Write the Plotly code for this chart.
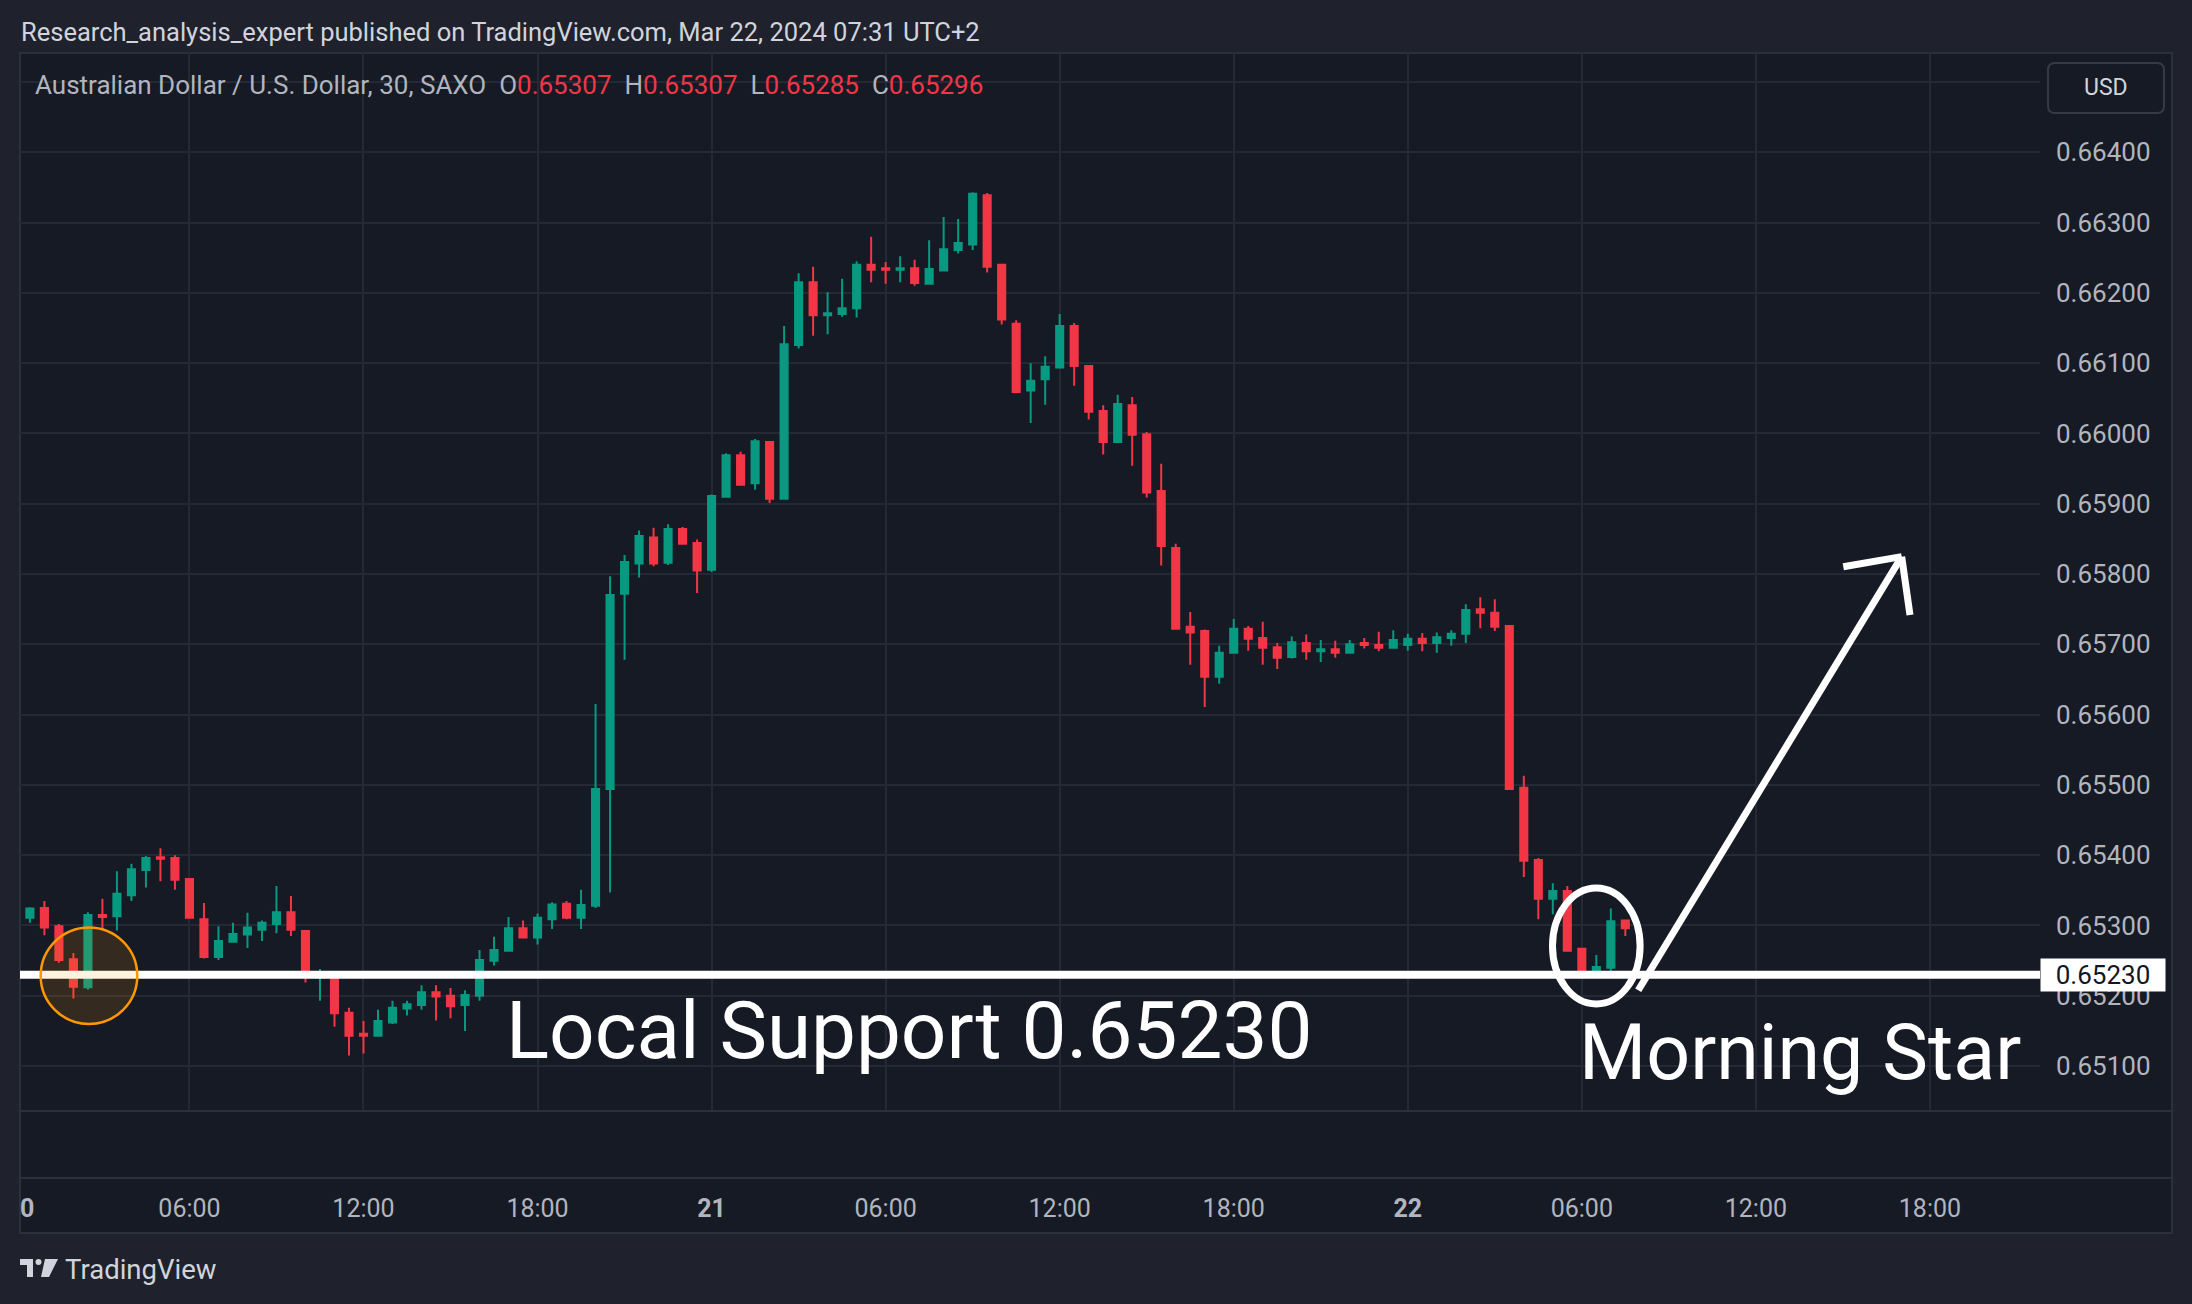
import plotly.graph_objects as go
import pandas as pd

# ---------------- data (AUD/USD, 30 min bars, SAXO) ----------------
bar_start = "2024-03-20 00:00"
bar_count = 112

open_prices = [
    0.65321, 0.65311, 0.65325, 0.65299, 0.65252, 0.65212, 0.65315, 0.65313, 0.65343, 0.65379,
    0.65397, 0.65396, 0.65366, 0.65309, 0.65255, 0.65277, 0.65287, 0.65294, 0.65302, 0.65319,
    0.65292, 0.65226, 0.65227, 0.65176, 0.65146, 0.65143, 0.65162, 0.65182, 0.65187, 0.65205,
    0.65200, 0.65187, 0.65200, 0.65250, 0.65264, 0.65296, 0.65283, 0.65309, 0.65331, 0.65311,
    0.65328, 0.65494, 0.65772, 0.65815, 0.65852, 0.65816, 0.65864, 0.65844, 0.65806, 0.65910,
    0.65969, 0.65929, 0.65988, 0.65907, 0.66126, 0.66215, 0.66168, 0.66170, 0.66178, 0.66240,
    0.66235, 0.66233, 0.66235, 0.66213, 0.66232, 0.66261, 0.66269, 0.66339, 0.66240, 0.66156,
    0.66061, 0.66077, 0.66094, 0.66153, 0.66096, 0.66032, 0.65988, 0.66040, 0.65999, 0.65918,
    0.65837, 0.65725, 0.65719, 0.65654, 0.65688, 0.65722, 0.65709, 0.65696, 0.65682, 0.65702,
    0.65690, 0.65693, 0.65688, 0.65702, 0.65699, 0.65695, 0.65699, 0.65708, 0.65702, 0.65709,
    0.65715, 0.65750, 0.65745, 0.65726, 0.65496, 0.65393, 0.65338, 0.65349, 0.65267, 0.65233,
    0.65240, 0.65307,
]
high_prices = [
    0.65325, 0.65326, 0.65335, 0.65302, 0.65261, 0.65319, 0.65338, 0.65377, 0.65388, 0.65399,
    0.65410, 0.65400, 0.65367, 0.65332, 0.65299, 0.65304, 0.65318, 0.65307, 0.65356, 0.65342,
    0.65293, 0.65238, 0.65230, 0.65183, 0.65164, 0.65180, 0.65193, 0.65193, 0.65215, 0.65215,
    0.65211, 0.65208, 0.65265, 0.65284, 0.65312, 0.65307, 0.65317, 0.65333, 0.65335, 0.65351,
    0.65615, 0.65797, 0.65827, 0.65862, 0.65866, 0.65871, 0.65867, 0.65849, 0.65913, 0.65972,
    0.65974, 0.65992, 0.65989, 0.66153, 0.66228, 0.66237, 0.66201, 0.66220, 0.66245, 0.66280,
    0.66244, 0.66252, 0.66247, 0.66275, 0.66308, 0.66305, 0.66343, 0.66342, 0.66240, 0.66161,
    0.66100, 0.66110, 0.66170, 0.66157, 0.66097, 0.66040, 0.66055, 0.66052, 0.66002, 0.65957,
    0.65843, 0.65746, 0.65721, 0.65698, 0.65736, 0.65726, 0.65732, 0.65702, 0.65711, 0.65714,
    0.65706, 0.65705, 0.65706, 0.65709, 0.65718, 0.65720, 0.65715, 0.65716, 0.65717, 0.65720,
    0.65757, 0.65767, 0.65764, 0.65726, 0.65513, 0.65396, 0.65360, 0.65356, 0.65267, 0.65258,
    0.65324, 0.65307,
]
low_prices = [
    0.65305, 0.65304, 0.65286, 0.65247, 0.65196, 0.65209, 0.65294, 0.65293, 0.65335, 0.65354,
    0.65363, 0.65351, 0.65310, 0.65253, 0.65251, 0.65277, 0.65268, 0.65278, 0.65289, 0.65285,
    0.65219, 0.65193, 0.65156, 0.65115, 0.65118, 0.65143, 0.65160, 0.65172, 0.65180, 0.65165,
    0.65168, 0.65150, 0.65193, 0.65243, 0.65264, 0.65283, 0.65273, 0.65295, 0.65309, 0.65295,
    0.65325, 0.65347, 0.65678, 0.65795, 0.65811, 0.65813, 0.65843, 0.65773, 0.65803, 0.65910,
    0.65926, 0.65920, 0.65901, 0.65907, 0.66121, 0.66139, 0.66141, 0.66166, 0.66165, 0.66215,
    0.66213, 0.66215, 0.66210, 0.66213, 0.66232, 0.66256, 0.66261, 0.66229, 0.66155, 0.66058,
    0.66015, 0.66041, 0.66094, 0.66068, 0.66020, 0.65970, 0.65988, 0.65954, 0.65909, 0.65812,
    0.65722, 0.65671, 0.65611, 0.65644, 0.65688, 0.65691, 0.65671, 0.65665, 0.65680, 0.65678,
    0.65675, 0.65681, 0.65688, 0.65694, 0.65690, 0.65695, 0.65691, 0.65690, 0.65688, 0.65698,
    0.65702, 0.65723, 0.65719, 0.65493, 0.65369, 0.65309, 0.65316, 0.65264, 0.65230, 0.65228,
    0.65235, 0.65285,
]
close_prices = [
    0.65311, 0.65324, 0.65297, 0.65251, 0.65213, 0.65315, 0.65312, 0.65345, 0.65380, 0.65396,
    0.65395, 0.65365, 0.65311, 0.65255, 0.65278, 0.65288, 0.65297, 0.65304, 0.65319, 0.65294,
    0.65227, 0.65231, 0.65175, 0.65143, 0.65143, 0.65164, 0.65183, 0.65188, 0.65205, 0.65199,
    0.65185, 0.65201, 0.65251, 0.65265, 0.65296, 0.65283, 0.65311, 0.65330, 0.65311, 0.65329,
    0.65494, 0.65770, 0.65817, 0.65854, 0.65815, 0.65864, 0.65843, 0.65805, 0.65911, 0.65969,
    0.65927, 0.65989, 0.65907, 0.66127, 0.66215, 0.66168, 0.66171, 0.66178, 0.66240, 0.66233,
    0.66233, 0.66235, 0.66214, 0.66234, 0.66262, 0.66271, 0.66341, 0.66237, 0.66162, 0.66059,
    0.66075, 0.66095, 0.66153, 0.66096, 0.66031, 0.65988, 0.66042, 0.65998, 0.65916, 0.65840,
    0.65722, 0.65717, 0.65654, 0.65688, 0.65722, 0.65708, 0.65695, 0.65681, 0.65703, 0.65690,
    0.65693, 0.65688, 0.65700, 0.65699, 0.65695, 0.65706, 0.65708, 0.65702, 0.65710, 0.65715,
    0.65749, 0.65745, 0.65725, 0.65494, 0.65392, 0.65338, 0.65349, 0.65264, 0.65233, 0.65241,
    0.65306, 0.65296,
]

price_ticks = [0.651, 0.652, 0.653, 0.654, 0.655, 0.656, 0.657, 0.658,
               0.659, 0.660, 0.661, 0.662, 0.663, 0.664, 0.665]
price_tick_labels = ["0.65100", "0.65200", "0.65300", "0.65400", "0.65500", "0.65600",
                     "0.65700", "0.65800", "0.65900", "0.66000", "0.66100", "0.66200",
                     "0.66300", "0.66400", ""]
time_ticks = ["2024-03-20 06:00", "2024-03-20 12:00", "2024-03-20 18:00",
              "2024-03-21 00:00", "2024-03-21 06:00", "2024-03-21 12:00", "2024-03-21 18:00",
              "2024-03-22 00:00", "2024-03-22 06:00", "2024-03-22 12:00", "2024-03-22 18:00"]
time_tick_labels = ["06:00", "12:00", "18:00", "<b>21</b>", "06:00", "12:00", "18:00",
                    "<b>22</b>", "06:00", "12:00", "18:00"]
cut_day_label = "0"   # visible remainder of the day label "20" clipped at the left edge

support_level = 0.65230

# ---------------- styling ----------------
UP = "#089981"
DOWN = "#F23645"
OUTER = "#1F222D"
PANE = "#161A25"
GRID = "#252935"
BORDER = "#2C303B"
TXT = "#B2B5BE"
LIGHT = "#D1D4DC"
FONT = "Roboto"

W, H = 2192, 1304
PL, PR, PT, PB = 20, 2040, 53, 1111   # plot area in px
Y_RANGE = [0.6503607, 0.6654127]
t0 = pd.Timestamp(bar_start)


def t_at(hours):
    return (t0 + pd.Timedelta(hours=hours)).isoformat()


X_RANGE = [t_at(0.1586), t_at(69.795)]


def px(x):
    return (x - PL) / (PR - PL)


def py(y):
    return (PB - y) / (PB - PT)


times = pd.date_range(bar_start, periods=bar_count, freq="30min")

fig = go.Figure(go.Candlestick(
    x=times, open=open_prices, high=high_prices, low=low_prices, close=close_prices,
    increasing=dict(line=dict(color=UP, width=2), fillcolor=UP),
    decreasing=dict(line=dict(color=DOWN, width=2), fillcolor=DOWN),
    whiskerwidth=0, showlegend=False, hoverinfo="skip",
))

shapes = []
# chart widget background
shapes.append(dict(type="rect", xref="paper", yref="paper", layer="below",
                   x0=px(20), x1=px(2172), y0=py(1233), y1=py(53),
                   fillcolor=PANE, line=dict(color=BORDER, width=2)))
# pane separators
for yy in (1111, 1178):
    shapes.append(dict(type="line", xref="paper", yref="paper", layer="above",
                       x0=px(20), x1=px(2172), y0=py(yy), y1=py(yy),
                       line=dict(color=BORDER, width=2)))
# support line
shapes.append(dict(type="line", xref="paper", yref="y", x0=0, x1=1,
                   y0=support_level, y1=support_level,
                   line=dict(color="white", width=8)))
# orange circle (left)
shapes.append(dict(type="circle", xref="x", yref="y",
                   x0=t_at(2.537 - 1.665), x1=t_at(2.537 + 1.665),
                   y0=0.652286 - 0.000687, y1=0.652286 + 0.000687,
                   fillcolor="rgba(255,152,0,0.13)", line=dict(color="#FF9800", width=2.5)))
# morning star ellipse
shapes.append(dict(type="circle", xref="x", yref="y",
                   x0=t_at(54.499 - 1.51), x1=t_at(54.499 + 1.51),
                   y0=0.652708 - 0.000825, y1=0.652708 + 0.000825,
                   line=dict(color="white", width=7)))
# arrow
tip = (65.027, 0.658247)
for (hx, hy) in [(55.946, 0.652078), (63.014, 0.658104), (65.313, 0.657417)]:
    shapes.append(dict(type="line", xref="x", yref="y",
                       x0=t_at(hx), y0=hy, x1=t_at(tip[0]), y1=tip[1],
                       line=dict(color="white", width=7)))


def rounded(x0, y0, x1, y1, r):
    rx, ry = r / (PR - PL), r / (PB - PT)
    a, b, c, d = px(x0), py(y1), px(x1), py(y0)
    return (f"M {a+rx},{b} L {c-rx},{b} Q {c},{b} {c},{b+ry} L {c},{d-ry} Q {c},{d} {c-rx},{d} "
            f"L {a+rx},{d} Q {a},{d} {a},{d-ry} L {a},{b+ry} Q {a},{b} {a+rx},{b} Z")


# USD box
shapes.append(dict(type="path", xref="paper", yref="paper", path=rounded(2048, 63, 2164, 113, 7),
                   fillcolor=PANE, line=dict(color="#363A45", width=2)))
# TradingView logo
shapes.append(dict(type="path", xref="paper", yref="paper",
                   path=f"M {px(20)},{py(1259)} L {px(33)},{py(1259)} L {px(33)},{py(1277)} "
                        f"L {px(27)},{py(1277)} L {px(27)},{py(1265)} L {px(20)},{py(1265)} Z",
                   fillcolor=LIGHT, line=dict(width=0)))
shapes.append(dict(type="circle", xref="paper", yref="paper",
                   x0=px(35.5), x1=px(41.5), y0=py(1265), y1=py(1259),
                   fillcolor=LIGHT, line=dict(width=0)))
shapes.append(dict(type="path", xref="paper", yref="paper",
                   path=f"M {px(45)},{py(1259)} L {px(58)},{py(1259)} L {px(49)},{py(1277)} "
                        f"L {px(41)},{py(1277)} Z",
                   fillcolor=LIGHT, line=dict(width=0)))

o, h, l, c = open_prices[-1], high_prices[-1], low_prices[-1], close_prices[-1]
val_col = DOWN if c < o else UP
sp = "&#160;&#160;"
legend_txt = (f"Australian Dollar / U.S. Dollar, 30, SAXO{sp}"
              f"O<span style='color:{val_col}'>{o:.5f}</span>{sp}"
              f"H<span style='color:{val_col}'>{h:.5f}</span>{sp}"
              f"L<span style='color:{val_col}'>{l:.5f}</span>{sp}"
              f"C<span style='color:{val_col}'>{c:.5f}</span>")

annotations = [
    dict(text="Research_analysis_expert published on TradingView.com, Mar 22, 2024 07:31 UTC+2",
         xref="paper", yref="paper", x=px(19), y=py(31.7), xanchor="left", yanchor="middle",
         showarrow=False, font=dict(family=FONT, size=25.5, color=LIGHT)),
    dict(text=legend_txt, xref="paper", yref="paper", x=px(33), y=py(85), xanchor="left",
         yanchor="middle", showarrow=False, font=dict(family=FONT, size=26, color=TXT)),
    dict(text="USD", xref="paper", yref="paper", x=px(2106), y=py(88), xanchor="center",
         yanchor="middle", showarrow=False, font=dict(family=FONT, size=23, color=LIGHT)),
    dict(text=f"{support_level:.5f}", xref="paper", yref="y", x=px(2040), y=support_level,
         xanchor="left", yanchor="middle", showarrow=False, bgcolor="white", borderpad=0,
         width=124, height=32, align="center",
         font=dict(family=FONT, size=26, color="#131722")),
    dict(text="Local Support 0.65230", xref="paper", yref="paper", x=px(504), y=py(1031),
         xanchor="left", yanchor="middle", showarrow=False,
         font=dict(family=FONT, size=80, color="white")),
    dict(text="Morning Star", xref="paper", yref="paper", x=px(1577), y=py(1052.5),
         xanchor="left", yanchor="middle", showarrow=False,
         font=dict(family=FONT, size=77, color="white")),
    dict(text="TradingView", xref="paper", yref="paper", x=px(63), y=py(1269),
         xanchor="left", yanchor="middle", showarrow=False,
         font=dict(family=FONT, size=27.5, color=LIGHT)),
    dict(text=f"<b>{cut_day_label}</b>", xref="paper", yref="paper", x=px(18), y=py(1208),
         xanchor="left", yanchor="middle", showarrow=False,
         font=dict(family=FONT, size=25, color=TXT)),
]

fig.update_layout(
    width=W, height=H, autosize=False,
    margin=dict(l=PL, r=W - PR, t=PT, b=H - PB, pad=0),
    paper_bgcolor=OUTER, plot_bgcolor="rgba(0,0,0,0)",
    font=dict(family=FONT, size=25, color=TXT),
    showlegend=False, hovermode=False,
    shapes=shapes, annotations=annotations,
    xaxis=dict(type="date", range=X_RANGE, tickvals=time_ticks, ticktext=time_tick_labels,
               showgrid=True, gridcolor=GRID, gridwidth=2, zeroline=False, showline=False,
               ticks="", ticklabelstandoff=80, tickfont=dict(family=FONT, size=25, color=TXT),
               rangeslider=dict(visible=False), fixedrange=True),
    yaxis=dict(side="right", range=Y_RANGE, tickvals=price_ticks, ticktext=price_tick_labels,
               showgrid=True, gridcolor=GRID, gridwidth=2, zeroline=False, showline=False,
               ticks="", ticklabelstandoff=15, tickfont=dict(family=FONT, size=26, color=TXT),
               fixedrange=True),
)

fig.write_html(
    "out.html",
    config={"displayModeBar": False},
    post_script="document.body.style.margin='0';document.body.style.overflow='hidden';",
)
